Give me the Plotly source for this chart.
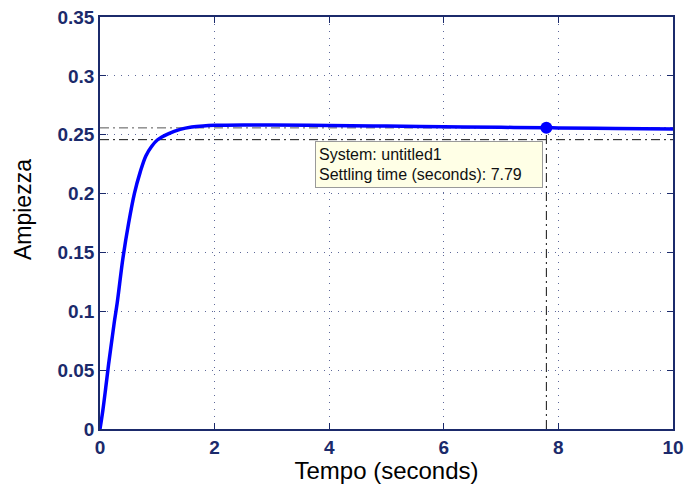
import plotly.graph_objects as go

# Step response
t = [0, 0.05, 0.1, 0.15, 0.2, 0.25, 0.3, 0.4, 0.5, 0.6, 0.7, 0.8, 0.9, 1.0, 1.2, 1.4,
     1.6, 1.8, 2.0, 2.5, 3.0, 4.0, 5.0, 6.0, 7.0, 7.79, 8.0, 9.0, 10.0]
y = [0, 0.016, 0.035, 0.055, 0.073, 0.091, 0.107, 0.145, 0.175, 0.200, 0.218, 0.232,
     0.240, 0.2455, 0.251, 0.2545, 0.2565, 0.2575, 0.258, 0.2583, 0.2582, 0.2578,
     0.2573, 0.2568, 0.2563, 0.2559, 0.2558, 0.2553, 0.2548]

settling_time = 7.79
settling_value = 0.2559
band_upper = 0.2558
band_lower = 0.2458
x_range = [0, 10]
y_range = [0, 0.35]
x_ticks = [0, 2, 4, 6, 8, 10]
y_ticks = [0, 0.05, 0.1, 0.15, 0.2, 0.25, 0.3, 0.35]
y_ticklabels = ["0", "0.05", "0.1", "0.15", "0.2", "0.25", "0.3", "0.35"]

navy = "#1b2a6b"
grid = "rgba(40,55,120,0.75)"
font = "Liberation Sans, Arial, sans-serif"
dashdot = "9px,4px,2px,4px"

fig = go.Figure()

# settling band
fig.add_trace(go.Scatter(x=x_range, y=[band_upper, band_upper], mode="lines",
                         line=dict(color="#555555", width=1, dash=dashdot),
                         hoverinfo="skip", showlegend=False))
fig.add_trace(go.Scatter(x=x_range, y=[band_lower, band_lower], mode="lines",
                         line=dict(color="#111111", width=1, dash=dashdot),
                         hoverinfo="skip", showlegend=False))
# vertical settling time line
fig.add_trace(go.Scatter(x=[settling_time, settling_time], y=[0, settling_value], mode="lines",
                         line=dict(color="#111111", width=1, dash=dashdot),
                         hoverinfo="skip", showlegend=False))
# response
fig.add_trace(go.Scatter(x=t, y=y, mode="lines", line=dict(color="#0000ff", width=3.5, shape="spline"),
                         showlegend=False))
# marker
fig.add_trace(go.Scatter(x=[settling_time], y=[settling_value], mode="markers",
                         marker=dict(color="#0000ff", size=12), showlegend=False))

fig.add_annotation(x=3.75, y=0.2445, xref="x", yref="y", xanchor="left", yanchor="top",
                   text="System: untitled1<br>Settling time (seconds): 7.79",
                   showarrow=False, align="left",
                   font=dict(family=font, size=16, color="#111111"),
                   bgcolor="#ffffe6", bordercolor="#9a9a9a", borderwidth=1, borderpad=3,
                   width=220, height=39)

# y-axis title (placed to match the reference position)
fig.add_annotation(x=-0.134, y=0.532, xref="paper", yref="paper", xanchor="center", yanchor="middle",
                   text="Ampiezza", textangle=-90, showarrow=False,
                   font=dict(family=font, size=23, color="#000000"))

axis_common = dict(showline=True, linecolor=navy, linewidth=1.5, mirror="ticks",
                   ticks="inside", ticklen=6, tickcolor=navy, tickwidth=1,
                   showgrid=True, gridcolor=grid, griddash="1px,6px", gridwidth=1,
                   zeroline=False, automargin=False,
                   tickfont=dict(family=font, size=19, color=navy, weight="bold"))

fig.update_xaxes(range=x_range, tickvals=x_ticks, ticktext=[str(v) for v in x_ticks],
                 title=dict(text="Tempo (seconds)", font=dict(family=font, size=24, color="#000000"),
                            standoff=5),
                 **axis_common)
fig.update_yaxes(range=y_range, tickvals=y_ticks, ticktext=y_ticklabels, **axis_common)

fig.update_layout(width=685, height=484, margin=dict(l=100, r=12, t=17, b=55),
                  plot_bgcolor="white", paper_bgcolor="white")

fig.write_html("out.html")
